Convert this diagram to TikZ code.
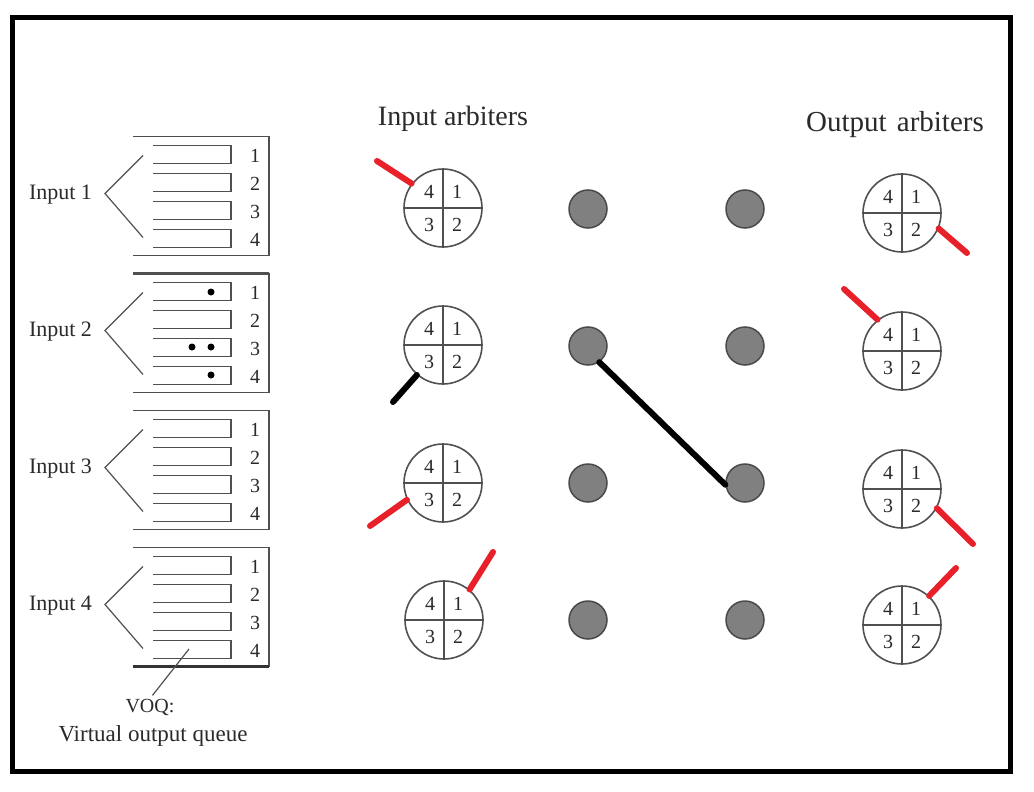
\documentclass[tikz,border=0pt]{standalone}
\usepackage{fontspec}
\setmainfont{Liberation Serif}
\definecolor{lncol}{HTML}{505050}
\definecolor{txt}{HTML}{2A2A2A}
\definecolor{redc}{HTML}{E8202A}
\definecolor{xpfill}{HTML}{808080}
\definecolor{xpdraw}{HTML}{4A4A4A}
\begin{document}
\begin{tikzpicture}[x=1pt,y=-1pt,
  ln/.style={draw=lncol, line width=1.8pt},
  fork/.style={draw=lncol, line width=1.2pt},
  arb/.style={circle, draw=lncol, line width=1.6pt, minimum size=78pt, inner sep=0pt},
  xp/.style={circle, fill=xpfill, draw=xpdraw, line width=1.5pt, minimum size=38pt, inner sep=0pt},
  dig/.style={font=\fontsize{20}{20}\selectfont, text=txt, inner sep=0pt},
  lbl/.style={font=\fontsize{22}{22}\selectfont, text=txt, inner sep=0pt},
  hdr/.style={font=\fontsize{28}{28}\selectfont, text=txt, inner sep=0pt},
  redl/.style={draw=redc, line width=6pt, line cap=round},
  blkl/.style={draw=black, line width=6pt, line cap=round},
  pkt/.style={circle, fill=black, minimum size=7pt, inner sep=0pt},
]
\useasboundingbox (0,0) rectangle (1034,792);
\fill[white] (0,0) rectangle (1034,792);
\draw[line width=5pt] (12,18) rectangle (1010,771);

% input blocks
\foreach \k [evaluate=\k as \n using int(\k+1), evaluate=\k as \T using 136.5+137*\k] in {0,...,3}{
  \draw[ln] (133,\T) -- (269,\T) -- (269,{\T+119}) -- (133,{\T+119});
  \foreach \q [evaluate=\q as \m using int(\q+1)] in {0,...,3}{
    \draw[ln] (153,{\T+9+28*\q}) -- (231,{\T+9+28*\q}) -- (231,{\T+27+28*\q}) -- (153,{\T+27+28*\q});
    \node[dig] (n\n-\m) at (255,{\T+19+28*\q}) {\m};
  }
  \node[lbl] (in\n) at (60.5,{\T+58}) {Input \n};
  \coordinate (fa\n) at (105,{\T+57});
  \coordinate (ft\n) at (143,{\T+19});
  \coordinate (fb\n) at (143,{\T+101});
  \draw[fork] (ft\n) -- (fa\n) -- (fb\n);
}
\draw[draw=lncol, line width=3pt] (133,273.5) -- (269,273.5);
\draw[draw=black!80, line width=3pt] (133,666.5) -- (269,666.5);

% packets in input 2
\node[pkt] (p1) at (211,292) {};
\node[pkt] (p2) at (192,347) {};
\node[pkt] (p3) at (211,347) {};
\node[pkt] (p4) at (211,375) {};

% VOQ label
\coordinate (voqp) at (189,649);
\node[lbl, font=\fontsize{20}{20}\selectfont] (voq) at (150,707) {VOQ:};
\node[lbl, font=\fontsize{23}{23}\selectfont] (voqt) at (153,736) {Virtual output queue};
\draw[fork, shorten >=4pt] (voqp) -- (voq.north);

% headers
\node[hdr] (iah) at (453,119) {Input arbiters};
\node[hdr, font=\fontsize{29}{29}\selectfont] (oah) at (895,125) {Output\hspace{0.35em}arbiters};

% arbiters
\foreach \nm/\x/\y in {ia1/443/208, ia2/443/345, ia3/443/483, ia4/444/620,
                       oa1/902/213, oa2/902/351, oa3/902/489, oa4/902/625}{
  \node[arb] (\nm) at (\x,\y) {};
  \draw[draw=lncol, line width=1.4pt] (\nm.north) -- (\nm.south) (\nm.west) -- (\nm.east);
  \node[dig] (\nm-4) at ({\x-14},{\y-16}) {4};
  \node[dig] (\nm-1) at ({\x+14},{\y-16}) {1};
  \node[dig] (\nm-3) at ({\x-14},{\y+17}) {3};
  \node[dig] (\nm-2) at ({\x+14},{\y+17}) {2};
}

% crosspoints
\foreach \r/\y in {1/209, 2/346, 3/483, 4/620}{
  \node[xp] (x\r1) at (588,\y) {};
  \node[xp] (x\r2) at (745,\y) {};
}

% connection through crossbar
\draw[blkl] (x21.-55) -- (x32.185);

% arbiter pointers
\coordinate (r1) at (377,161);
\coordinate (b2) at (393,402);
\coordinate (r3) at (370,526);
\coordinate (r4) at (493,552);
\coordinate (s1) at (967,253);
\coordinate (s2) at (844,289);
\coordinate (s3) at (973,544);
\coordinate (s4) at (956,568);
\draw[redl] (ia1.142) -- (r1);
\draw[blkl] (ia2.229) -- (b2);
\draw[redl] (ia3.205) -- (r3);
\draw[redl] (ia4.50) -- (r4);
\draw[redl] (oa1.-23) -- (s1);
\draw[redl] (oa2.128) -- (s2);
\draw[redl] (oa3.-29) -- (s3);
\draw[redl] (oa4.47) -- (s4);
\end{tikzpicture}
\end{document}
